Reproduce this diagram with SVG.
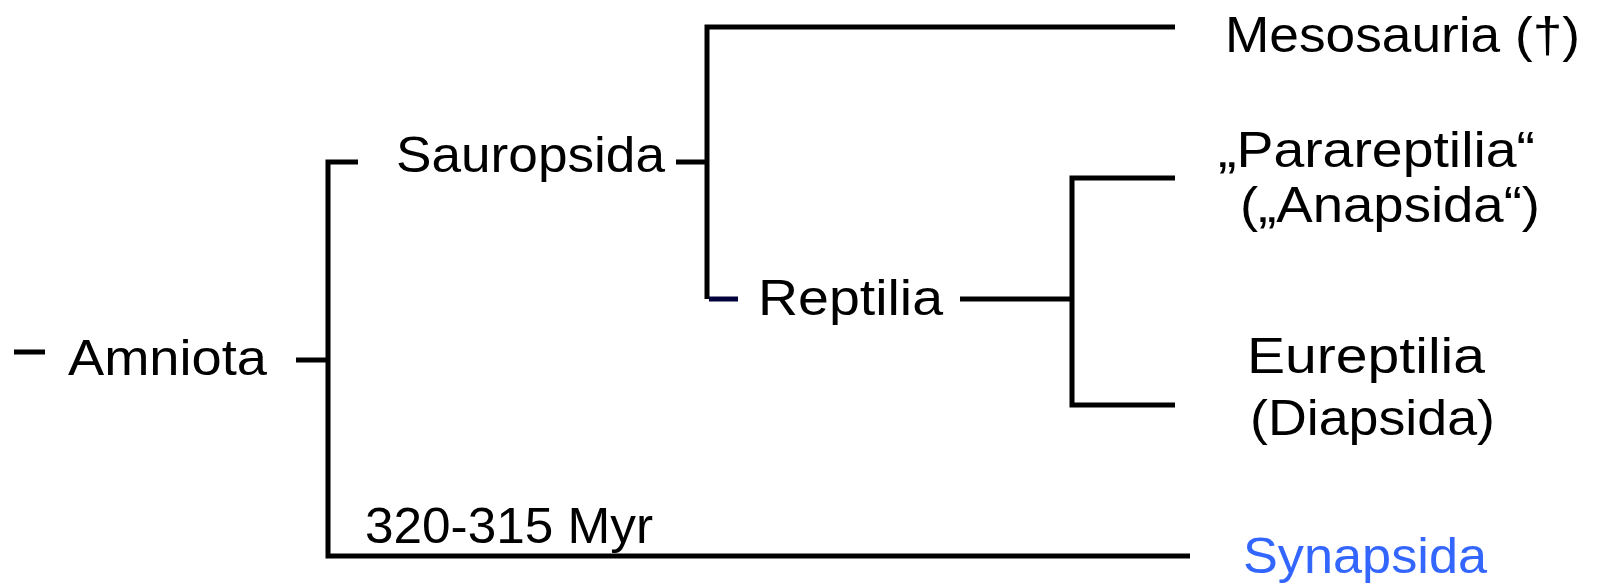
<svg xmlns="http://www.w3.org/2000/svg" width="1602" height="587" viewBox="0 0 1602 587">
<style>
.lbl{font-family:"Liberation Sans","DejaVu Sans",sans-serif;font-size:50px;fill:#000;}
.blue{fill:#3366ff;}
.ln{fill:none;stroke:#000;stroke-width:5;stroke-linecap:butt;stroke-linejoin:miter;}
.navy{stroke:#00003c;}
</style>
<rect width="1602" height="587" fill="#fff"/>
<g id="connectors">
<path class="ln" d="M14 352 H45"/>
<path class="ln" d="M296 360 H328"/>
<path class="ln" d="M358 162 H328 V556 H1190"/>
<path class="ln" d="M676 162 H707"/>
<path class="ln" d="M1175 27 H707 V299"/>
<path class="ln navy" d="M709 299 H738"/>
<path class="ln" d="M960 299 H1072"/>
<path class="ln" d="M1175 178 H1072 V405 H1175"/>
</g>
<g id="amniota"><text class="lbl" x="68" y="375" textLength="199" lengthAdjust="spacingAndGlyphs">Amniota</text></g>
<g id="sauropsida"><text class="lbl" x="396" y="172" textLength="269" lengthAdjust="spacingAndGlyphs">Sauropsida</text></g>
<g id="mesosauria"><text class="lbl" x="1225" y="52" textLength="355" lengthAdjust="spacingAndGlyphs">Mesosauria (†)</text></g>
<g id="reptilia"><text class="lbl" x="758" y="315" textLength="185" lengthAdjust="spacingAndGlyphs">Reptilia</text></g>
<g id="parareptilia">
<text class="lbl" x="1218" y="167" textLength="317" lengthAdjust="spacingAndGlyphs">„Parareptilia“</text>
<text class="lbl" x="1240" y="222" textLength="300" lengthAdjust="spacingAndGlyphs">(„Anapsida“)</text>
</g>
<g id="eureptilia">
<text class="lbl" x="1247" y="373" textLength="238" lengthAdjust="spacingAndGlyphs">Eureptilia</text>
<text class="lbl" x="1250" y="435" textLength="245" lengthAdjust="spacingAndGlyphs">(Diapsida)</text>
</g>
<g id="synapsida"><text class="lbl blue" x="1243" y="573" textLength="244" lengthAdjust="spacingAndGlyphs">Synapsida</text></g>
<g id="time"><text class="lbl" x="365" y="543" textLength="288" lengthAdjust="spacingAndGlyphs">320-315 Myr</text></g>
</svg>
